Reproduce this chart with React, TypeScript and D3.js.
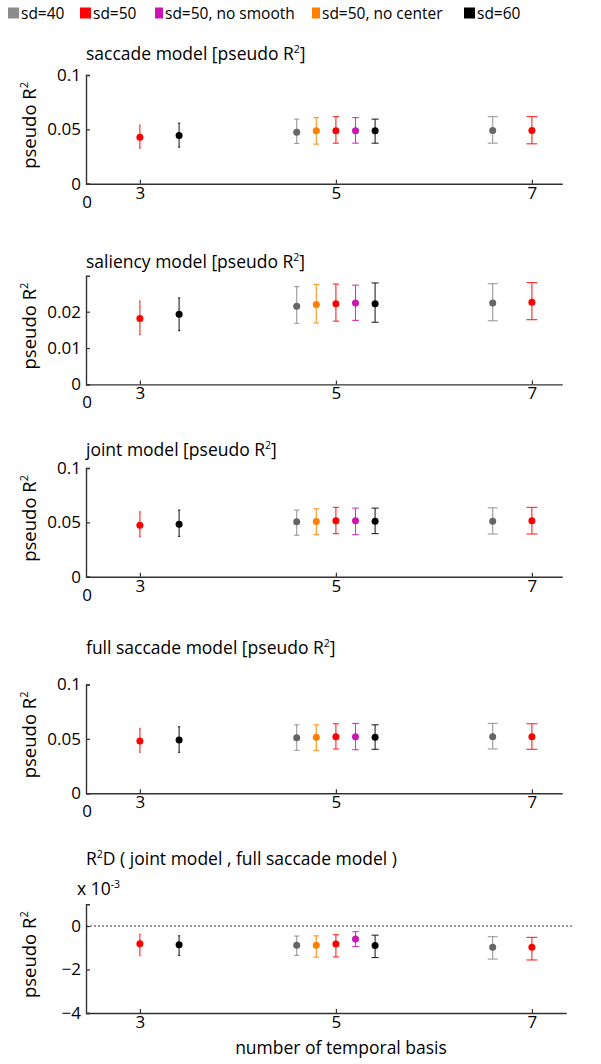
import { useRef, useEffect } from "react";
import * as d3 from "d3";

const SERIES_NAMES = ["sd=40", "sd=50", "sd=50, no smooth", "sd=50, no center", "sd=60"];
const SERIES_COLORS = ["#8a8a8a", "#ff0000", "#cc14b4", "#ff8000", "#000000"];
const MARKER_COLORS = ["#666666", "#ff0000", "#cc14b4", "#ff8000", "#000000"];
// legend order in the picture
const LEGEND_ORDER = [0, 1, 2, 3, 4];

// which series each point belongs to, and its x (number of temporal basis, shifted)
const POINT_SERIES = [1, 4, 0, 3, 1, 2, 4, 0, 1];
const POINT_X = [3, 3.4, 4.6, 4.8, 5, 5.2, 5.4, 6.6, 7];
const X_TICKS = [3, 5, 7];

const SACCADE_MEAN = [0.0428, 0.0443, 0.0474, 0.0486, 0.0486, 0.0486, 0.0486, 0.0489, 0.0489];
const SACCADE_LO = [0.0327, 0.0337, 0.037, 0.0364, 0.0373, 0.0373, 0.0373, 0.0373, 0.0367];
const SACCADE_HI = [0.054, 0.0557, 0.0594, 0.0608, 0.0617, 0.0608, 0.0594, 0.0617, 0.0617];

const SALIENCY_MEAN = [0.0181, 0.0193, 0.0215, 0.022, 0.0222, 0.0224, 0.0222, 0.0224, 0.0226];
const SALIENCY_LO = [0.0137, 0.0148, 0.0168, 0.0169, 0.0174, 0.0176, 0.0171, 0.0175, 0.0178];
const SALIENCY_HI = [0.0229, 0.0238, 0.0269, 0.0275, 0.0276, 0.0273, 0.0279, 0.0277, 0.028];

const JOINT_MEAN = [0.0474, 0.0483, 0.0505, 0.0508, 0.0514, 0.0514, 0.0511, 0.0511, 0.0514];
const JOINT_LO = [0.0365, 0.0371, 0.0381, 0.0387, 0.0396, 0.0387, 0.0396, 0.0393, 0.0393];
const JOINT_HI = [0.0597, 0.0613, 0.0613, 0.0625, 0.0638, 0.0631, 0.0631, 0.0634, 0.0638];

const FULL_MEAN = [0.048, 0.0489, 0.051, 0.0514, 0.052, 0.052, 0.0514, 0.052, 0.052];
const FULL_LO = [0.0376, 0.0376, 0.0394, 0.0394, 0.0407, 0.04, 0.0404, 0.0407, 0.0404];
const FULL_HI = [0.0596, 0.0611, 0.0629, 0.0629, 0.0639, 0.0642, 0.0629, 0.0642, 0.0639];

// x 10^-3
const DIFF_MEAN = [-0.82, -0.86, -0.88, -0.88, -0.83, -0.6, -0.89, -0.97, -0.98];
const DIFF_LO = [-1.37, -1.35, -1.35, -1.43, -1.42, -0.94, -1.45, -1.52, -1.56];
const DIFF_HI = [-0.38, -0.45, -0.46, -0.45, -0.4, -0.26, -0.42, -0.49, -0.52];

const PANELS = [
  { title: ["saccade model [pseudo R", "2", "]"], mean: SACCADE_MEAN, lo: SACCADE_LO, hi: SACCADE_HI, yDomain: [0, 0.1], yTicks: [0, 0.05, 0.1], top: 75, xMax: 7.31, zeroLabel: true, titleGap: 15 },
  { title: ["saliency model [pseudo R", "2", "]"], mean: SALIENCY_MEAN, lo: SALIENCY_LO, hi: SALIENCY_HI, yDomain: [0, 0.0299], yTicks: [0, 0.01, 0.02], top: 275.7, xMax: 7.31, zeroLabel: true, titleGap: 8 },
  { title: ["joint model [pseudo R", "2", "]"], mean: JOINT_MEAN, lo: JOINT_LO, hi: JOINT_HI, yDomain: [0, 0.1], yTicks: [0, 0.05, 0.1], top: 468, xMax: 7.31, zeroLabel: true, titleGap: 12 },
  { title: ["full saccade model [pseudo R", "2", "]"], mean: FULL_MEAN, lo: FULL_LO, hi: FULL_HI, yDomain: [0, 0.1], yTicks: [0, 0.05, 0.1], top: 684.5, xMax: 7.31, zeroLabel: true, titleGap: 31 },
  { title: ["R", "2", "D ( joint model , full saccade model )"], mean: DIFF_MEAN, lo: DIFF_LO, hi: DIFF_HI, yDomain: [-4, 1], yTicks: [-4, -2, 0], top: 904.3, xMax: 7.35, zeroLabel: false, titleGap: 39 },
];

const X_MIN = 2.45;
const FONT = "'Open Sans', 'Noto Sans', sans-serif";
const AXIS_COLOR = "#333";
const TEXT_SIZE = "17.5px";
const TICK_SIZE = "17px";
const SUP_SIZE = "10.5px";

const fmtTick = (v) => (v === 0 ? "0" : v < 0 ? "\u2212" + Math.abs(v) : String(v));

const App = () => {
  const svgRef = useRef();

  useEffect(() => {
    const svg = d3.select(svgRef.current);
    svg.selectAll("*").remove();

    const left = 86;
    const pxPerUnit = 98;
    const plotH = 108.7;

    // legend
    const legend = svg.append("g").attr("transform", "translate(0,13)");
    const legendX = [8, 80, 155, 312, 464];
    LEGEND_ORDER.forEach((s, i) => {
      const narrow = s === 2 || s === 3;
      legend
        .append("rect")
        .attr("x", legendX[i])
        .attr("y", -5.5)
        .attr("width", narrow ? 8 : 11)
        .attr("height", 11)
        .attr("fill", s === 0 ? "#8c8c8c" : SERIES_COLORS[s]);
      legend
        .append("text")
        .attr("x", legendX[i] + (narrow ? 10 : 13))
        .attr("y", 5.5)
        .style("font-family", FONT)
        .style("font-size", "15.5px")
        .style("fill", "#000")
        .text(SERIES_NAMES[s]);
    });

    PANELS.forEach((p, pi) => {
      const xScale = d3
        .scaleLinear()
        .domain([X_MIN, p.xMax])
        .range([left, left + (p.xMax - X_MIN) * pxPerUnit]);
      const yScale = d3.scaleLinear().domain(p.yDomain).range([p.top + plotH, p.top]);

      const g = svg.append("g");

      // title
      const title = g
        .append("text")
        .attr("x", left)
        .attr("y", p.top - p.titleGap)
        .style("font-family", FONT)
        .style("font-size", TEXT_SIZE)
        .style("fill", "#000");
      title.append("tspan").text(p.title[0]);
      title.append("tspan").attr("dy", -7).style("font-size", SUP_SIZE).text(p.title[1]);
      title.append("tspan").attr("dy", 7).text(p.title[2]);

      if (pi === 4) {
        const mult = g
          .append("text")
          .attr("x", 77)
          .attr("y", p.top - 9)
          .style("font-family", FONT)
          .style("font-size", TEXT_SIZE)
          .style("fill", "#000");
        mult.append("tspan").text("x 10");
        mult.append("tspan").attr("dy", -7).style("font-size", SUP_SIZE).text("-3");
      }

      // y label
      const yl = g
        .append("text")
        .attr("transform", `translate(36,${p.top + plotH / 2 - 4}) rotate(-90)`)
        .style("text-anchor", "middle")
        .style("font-family", FONT)
        .style("font-size", "18.5px")
        .style("fill", "#000");
      yl.append("tspan").text("pseudo R");
      yl.append("tspan").attr("dy", -8).style("font-size", "11px").text("2");

      // axes
      const xAxis = g
        .append("g")
        .attr("transform", `translate(0,${yScale(p.yDomain[0])})`)
        .call(
          d3
            .axisBottom(xScale)
            .tickValues(X_TICKS)
            .tickFormat(d3.format("d"))
            .tickSizeInner(-4)
            .tickSizeOuter(0)
            .tickPadding(3)
        );
      xAxis.select(".domain").attr("stroke", AXIS_COLOR).attr("stroke-width", 1.4);
      xAxis.selectAll(".tick line").attr("stroke", AXIS_COLOR).attr("stroke-width", 1.2);
      xAxis
        .selectAll("text")
        .style("font-family", FONT)
        .style("font-size", TICK_SIZE)
        .style("fill", "#000");

      const yAxis = g
        .append("g")
        .attr("transform", `translate(${left},0)`)
        .call(
          d3
            .axisLeft(yScale)
            .tickValues(p.yTicks)
            .tickFormat(fmtTick)
            .tickSizeInner(-4)
            .tickSizeOuter(-4)
            .tickPadding(5)
        );
      yAxis.select(".domain").attr("stroke", AXIS_COLOR).attr("stroke-width", 1.4);
      yAxis.selectAll(".tick line").attr("stroke", AXIS_COLOR).attr("stroke-width", 1.2);
      yAxis
        .selectAll("text")
        .style("font-family", FONT)
        .style("font-size", TICK_SIZE)
        .style("fill", "#000");

      if (p.zeroLabel) {
        g.append("text")
          .attr("x", left + 1)
          .attr("y", yScale(p.yDomain[0]) + 24)
          .style("text-anchor", "middle")
          .style("font-family", FONT)
          .style("font-size", TICK_SIZE)
          .style("fill", "#000")
          .text("0");
      }

      if (pi === 4) {
        g.append("line")
          .attr("x1", left)
          .attr("x2", xScale(p.xMax) + 6)
          .attr("y1", yScale(0))
          .attr("y2", yScale(0))
          .attr("stroke", "#333")
          .attr("stroke-width", 1)
          .attr("stroke-dasharray", "2,2");

        g.append("text")
          .attr("x", 341)
          .attr("y", 1054)
          .style("text-anchor", "middle")
          .style("font-family", FONT)
          .style("font-size", TEXT_SIZE)
          .style("fill", "#000")
          .text("number of temporal basis");
      }

      // error bars + markers
      POINT_X.forEach((xv, i) => {
        const s = POINT_SERIES[i];
        const cx = xScale(xv);
        const capHalf = (cx - left) * 0.0122;
        const col = SERIES_COLORS[s];
        const bar = g.append("g").attr("stroke", col).attr("stroke-width", 1.1).attr("opacity", 0.85);
        bar
          .append("line")
          .attr("x1", cx)
          .attr("x2", cx)
          .attr("y1", yScale(p.lo[i]))
          .attr("y2", yScale(p.hi[i]));
        [p.lo[i], p.hi[i]].forEach((v) => {
          bar
            .append("line")
            .attr("x1", cx - capHalf)
            .attr("x2", cx + capHalf)
            .attr("y1", yScale(v))
            .attr("y2", yScale(v));
        });
        g.append("circle")
          .attr("cx", cx)
          .attr("cy", yScale(p.mean[i]))
          .attr("r", 3.5)
          .attr("fill", MARKER_COLORS[s]);
      });
    });
  }, []);

  return (
    <svg
      ref={svgRef}
      width={601}
      height={1064}
      style={{ position: "absolute", left: 0, top: 0, background: "#fff" }}
    ></svg>
  );
};

export default App;
